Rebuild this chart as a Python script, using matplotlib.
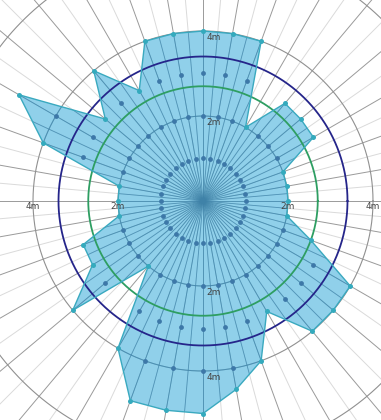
import numpy as np
import matplotlib
matplotlib.use('Agg')
import matplotlib.pyplot as plt

# measured reach (m) for every 10 degree direction, counter-clockwise from east
angles = np.arange(0, 360, 10)
reach = [2, 2, 2, 3, 3, 3, 2, 4, 4, 4,
         4, 4, 3, 4, 3, 5, 4, 2, 2, 2,
         3, 3, 4, 2, 4, 5, 5, 5, 4.5, 4,
         3, 4, 4, 4, 2.7, 2]
grid_rings = [2, 4, 6]
label_rings = [2, 4]
blue_ring = 3.4
green_ring = 2.7

W, H = 381, 420
cx, cy = 203, 201      # centre in pixels (from top-left)
ppm = 42.5             # pixels per metre

fig = plt.figure(figsize=(W / 100, H / 100), dpi=100)
ax = fig.add_axes([0, 0, 1, 1])
ax.set_xlim(-cx / ppm, (W - cx) / ppm)
ax.set_ylim(-(H - cy) / ppm, cy / ppm)
ax.axis('off')

spokes = np.radians(np.arange(0, 360, 5))
circ = np.linspace(0, 2 * np.pi, 500)

# spokes
for i, t in enumerate(spokes):
  dark = (i % 2 == 0)
  ax.plot([0, 8 * np.cos(t)], [0, 8 * np.sin(t)],
          color='#9a9a9a' if dark else '#dadada', lw=0.7, zorder=1)

# grey distance rings
for r in grid_rings:
  ax.plot(r * np.cos(circ), r * np.sin(circ), color='#909090', lw=0.8, zorder=1)

# reach polygon
th = np.radians(angles)
rr = np.array(reach)
px = rr * np.cos(th)
py = rr * np.sin(th)
poly = ax.fill(px, py, color='#66bfe3', alpha=0.72, lw=0, zorder=2)[0]

# grid seen through the fill
for t in spokes:
  ln, = ax.plot([0, 8 * np.cos(t)], [0, 8 * np.sin(t)], color='#3f82a8',
                lw=0.6, alpha=0.75, zorder=2.5)
  ln.set_clip_path(poly)
for r in grid_rings:
  ln, = ax.plot(r * np.cos(circ), r * np.sin(circ), color='#3f82a8',
                lw=0.7, alpha=0.75, zorder=2.5)
  ln.set_clip_path(poly)

ax.plot(np.append(px, px[0]), np.append(py, py[0]), color='#3aa9bf', lw=1.0, zorder=4)

# inner sample points at whole metres
dx, dy = [], []
for a, r in zip(angles, reach):
  for k in range(1, int(np.ceil(r))):
    dx.append(k * np.cos(np.radians(a)))
    dy.append(k * np.sin(np.radians(a)))
ax.scatter(dx, dy, s=12, color='#3d78a8', lw=0, zorder=5)
ax.scatter(px, py, s=13, color='#34aabd', lw=0, zorder=5)

# reference circles
ax.plot(green_ring * np.cos(circ), green_ring * np.sin(circ), color='#2e9e62', lw=1.3, zorder=3)
ax.plot(blue_ring * np.cos(circ), blue_ring * np.sin(circ), color='#25258a', lw=1.3, zorder=3)

# distance labels
for r in label_rings:
  for s in (-1, 1):
    ax.text(s * r, -0.13, '%dm' % r, ha='center', va='center', fontsize=6.5,
            color='#444444', zorder=6)
    ax.text(0.08, s * r - 0.15, '%dm' % r, ha='left', va='center', fontsize=6.5,
            color='#444444', zorder=6)

fig.savefig('out.png', dpi=100)
